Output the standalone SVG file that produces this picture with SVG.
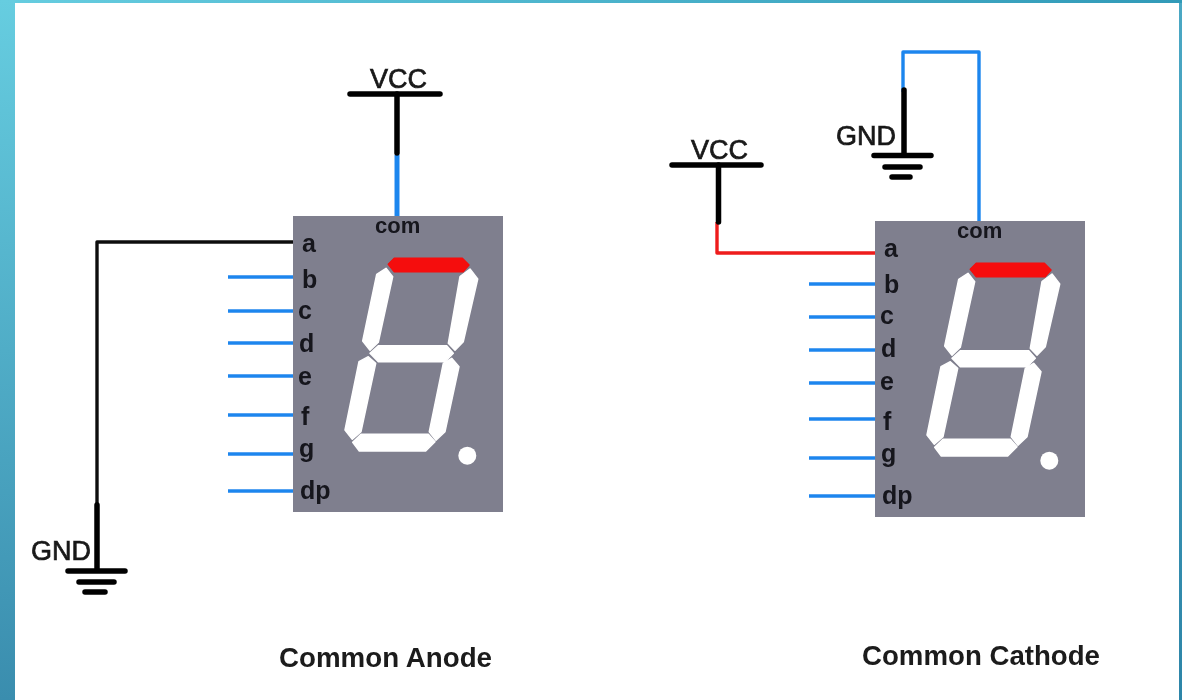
<svg xmlns="http://www.w3.org/2000/svg" xmlns:xlink="http://www.w3.org/1999/xlink" width="1182" height="700" viewBox="0 0 1182 700">
<style>
.lbl{font-family:"Liberation Sans",Arial,sans-serif;font-weight:700;fill:#14141c;font-size:25px}
.com{font-size:22px}
.cap{font-size:27px;fill:#1a1a1a}
.vg{font-family:"Liberation Sans",Arial,sans-serif;font-size:27px;fill:#1a1a1a;stroke:#1a1a1a;stroke-width:.7}
.wire{fill:none;stroke-width:3.4;stroke-linejoin:round}
.blue{stroke:#1f86ee}
.blk{stroke:#0a0a0a}
.red{stroke:#ee1a1a}
.thick{fill:none;stroke:#050505;stroke-width:5.500;stroke-linecap:round}
.panel{fill:#7f7f8e}
.seg{fill:#fff;stroke:#fff;stroke-width:1.500;stroke-linejoin:round}
.segr{fill:#f50a0a;stroke:#f50a0a;stroke-width:1.500;stroke-linejoin:round}
</style>
<defs>
<filter id="soft" x="-2%" y="-2%" width="104%" height="104%"><feGaussianBlur stdDeviation="0.6"/></filter>
<linearGradient id="bg" x1="0" y1="0" x2="1" y2="1">
<stop offset="0" stop-color="#66cde0"/>
<stop offset="0.5" stop-color="#4ba8c4"/>
<stop offset="1" stop-color="#2d85a8"/>
</linearGradient>
<linearGradient id="bgtop" x1="0" y1="0" x2="1" y2="0">
<stop offset="0" stop-color="#66cde0"/>
<stop offset="1" stop-color="#319ab8"/>
</linearGradient>
<linearGradient id="bgleft" x1="0" y1="0" x2="0" y2="1">
<stop offset="0" stop-color="#66cde0"/>
<stop offset="1" stop-color="#3a8dae"/>
</linearGradient>
<g id="display">
<polygon class="seg" points="386,268.3 392.7,276.7 378.3,342.3 370,350.3 362.7,341 376.7,274.3"/>
<polygon class="seg" points="470,269 477.7,279 463.3,341.7 455,350.3 448.3,343.3 460,276.7"/>
<polygon class="seg" points="370,353.3 378.3,345.7 446.7,345.7 453.3,353.3 445,361.7 378.3,361.7"/>
<polygon class="seg" points="368.3,356.7 375.7,363.3 361,431.7 352.3,439.3 345,430 359,361.7"/>
<polygon class="seg" points="451.7,358.3 459,366.7 445,431.7 436,440.3 429.3,431.7 443.3,363.3"/>
<polygon class="seg" points="352.7,442.3 361,434.3 428.3,434.3 435,441.7 425.7,451 359.300,451"/>
<circle cx="467.3" cy="455.7" r="9" fill="#fff"/>
<polygon class="segr" points="388.3,264.3 394.3,258.3 462.3,258.3 469,265 463,271.700 394.3,271.700"/>
</g>
</defs>
<g id="background">
<rect width="1182" height="700" fill="url(#bg)"/>
<rect width="1182" height="3" fill="url(#bgtop)"/>
<rect width="15" height="700" fill="url(#bgleft)"/>
<rect x="15" y="3" width="1164" height="697" fill="#fff"/>
</g>
<g filter="url(#soft)">
<g id="connectors">
<path class="wire blk" d="M293 242H97V505"/>
<path class="thick" d="M97 505V570"/>
<path class="wire blue" d="M397 155V216" style="stroke-width:5"/>
<path class="thick" d="M397 94V153"/>
<path class="wire blue" d="M228 277H293M228 311H293M228 343H293M228 376H293M228 415H293M228 454H293M228 491H293"/>
<path class="wire red" d="M717 222V253H875"/>
<path class="thick" d="M718.500 165V222"/>
<path class="wire blue" d="M979 221V52H903V92"/>
<path class="thick" d="M904 90V155"/>
<path class="wire blue" d="M809 284H875M809 317H875M809 350H875M809 383H875M809 419H875M809 458H875M809 496H875"/>
</g>
<g id="vcc-a"><path class="thick" d="M350 94H440"/><text class="vg" x="370" y="88">VCC</text></g>
<g id="gnd-a"><path class="thick" d="M68 571H125M79 582H114M85 592H105"/><text class="vg" x="31" y="560">GND</text></g>
<g id="display-a">
<rect class="panel" x="293" y="216" width="210" height="296"/>
<use href="#display"/>
<text class="lbl com" x="375" y="233">com</text>
<text class="lbl" x="302" y="252">a</text>
<text class="lbl" x="302" y="288">b</text>
<text class="lbl" x="298" y="319">c</text>
<text class="lbl" x="299" y="352">d</text>
<text class="lbl" x="298" y="385">e</text>
<text class="lbl" x="301" y="425">f</text>
<text class="lbl" x="299" y="457">g</text>
<text class="lbl" x="300" y="499">dp</text>
</g>
<g id="vcc-c"><path class="thick" d="M672 165H761"/><text class="vg" x="691" y="159">VCC</text></g>
<g id="gnd-c"><path class="thick" d="M874 155.500H931M885 167H920M892 177H910"/><text class="vg" x="836" y="145">GND</text></g>
<g id="display-c">
<rect class="panel" x="875" y="221" width="210" height="296"/>
<use href="#display" transform="translate(582 5)"/>
<text class="lbl com" x="957" y="238">com</text>
<text class="lbl" x="884" y="257">a</text>
<text class="lbl" x="884" y="293">b</text>
<text class="lbl" x="880" y="324">c</text>
<text class="lbl" x="881" y="357">d</text>
<text class="lbl" x="880" y="390">e</text>
<text class="lbl" x="883" y="430">f</text>
<text class="lbl" x="881" y="462">g</text>
<text class="lbl" x="882" y="504">dp</text>
</g>
<g id="captions">
<text class="lbl cap" x="279" y="667" textLength="213" lengthAdjust="spacingAndGlyphs">Common Anode</text>
<text class="lbl cap" x="862" y="665" textLength="238" lengthAdjust="spacingAndGlyphs">Common Cathode</text>
</g>
</g>
</svg>
